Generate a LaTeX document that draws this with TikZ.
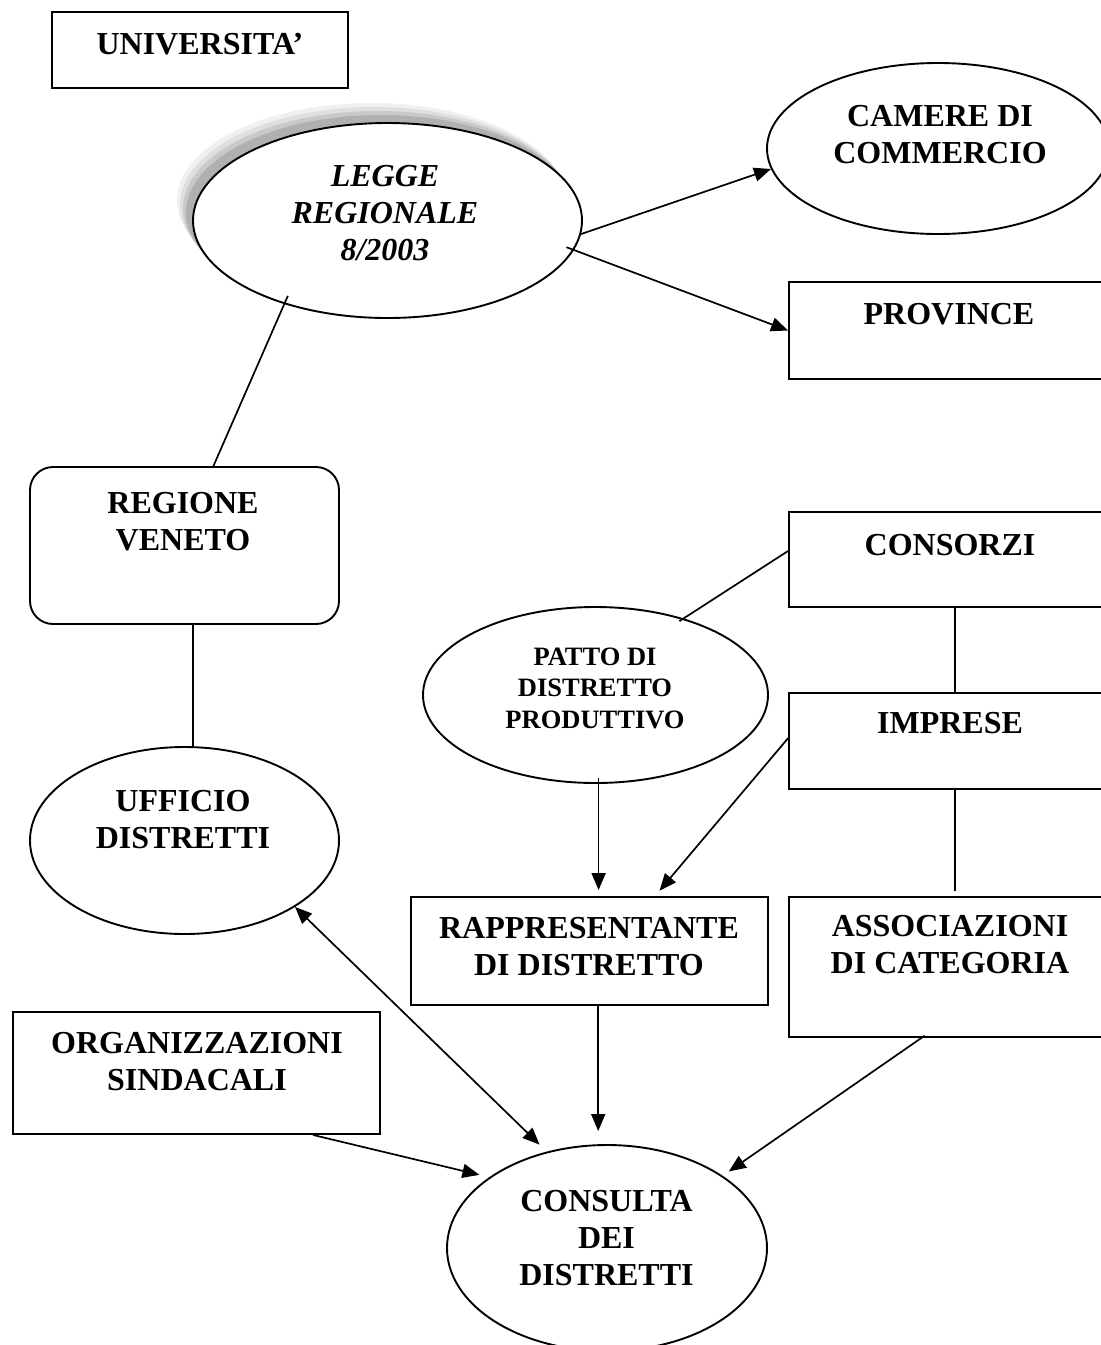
\documentclass[tikz,border=0pt]{standalone}
\usepackage{fontspec}
\setmainfont{Liberation Serif}
\usetikzlibrary{shapes.geometric,arrows.meta,calc}
\begin{document}
\begin{tikzpicture}[x=1pt,y=-1pt,
  shapeline/.style={draw=black, line width=1.9pt},
  boxnode/.style={shapeline, rectangle, inner sep=0pt, fill=white},
  ellnode/.style={shapeline, ellipse, inner sep=0pt, fill=white},
  lbl/.style={font=\bfseries\fontsize{32}{37}\selectfont, align=center, inner sep=0pt},
  itlbl/.style={font=\bfseries\itshape\fontsize{32}{37}\selectfont, align=center, inner sep=0pt},
  smalllbl/.style={font=\bfseries\fontsize{26.5}{31.5}\selectfont, align=center, inner sep=0pt},
  conn/.style={draw=black, line width=1.7pt},
  arr/.style={conn, -{Triangle[length=17pt,width=14pt]}},
  darr/.style={conn, {Triangle[length=17pt,width=14pt]}-{Triangle[length=17pt,width=14pt]}},
]
\useasboundingbox (0,0) rectangle (1101,1345);
\fill[white] (0,0) rectangle (1101,1345);
\clip (0,0) rectangle (1101,1345);

% shadow of the LEGGE ellipse
\fill[gray!12] (371.5,200.5) ellipse [x radius=194.5pt, y radius=97.5pt];
\fill[gray!25] (374.5,204.5) ellipse [x radius=194.5pt, y radius=97.5pt];
\fill[gray!42] (377.5,208.5) ellipse [x radius=194.5pt, y radius=97.5pt];
\fill[gray!62] (380.5,212.5) ellipse [x radius=194.5pt, y radius=97.5pt];

% shapes
\node[boxnode, minimum width=296pt, minimum height=76pt] (univ) at (200,50) {};
\node[ellnode, minimum width=389pt, minimum height=195pt] (legge) at (387.5,220.5) {};
\node[ellnode, minimum width=342pt, minimum height=171pt] (camere) at (938,148.5) {};
\node[boxnode, minimum width=322pt, minimum height=97pt] (province) at (950,330.5) {};
\node[boxnode, rounded corners=23pt, minimum width=309pt, minimum height=157pt] (regione) at (184.5,545.5) {};
\node[ellnode, minimum width=309pt, minimum height=187pt] (ufficio) at (184.5,840.5) {};
\node[boxnode, minimum width=322pt, minimum height=95pt] (consorzi) at (950,559.5) {};
\node[ellnode, minimum width=345pt, minimum height=176pt] (patto) at (595.5,695) {};
\node[boxnode, minimum width=322pt, minimum height=96pt] (imprese) at (950,741) {};
\node[boxnode, minimum width=357pt, minimum height=108pt] (rapp) at (589.5,951) {};
\node[boxnode, minimum width=322pt, minimum height=140pt] (assoc) at (950,967) {};
\node[boxnode, minimum width=367pt, minimum height=122pt] (org) at (196.5,1073) {};
\node[ellnode, minimum width=320pt, minimum height=206pt] (consulta) at (607,1248) {};

% texts
\node[lbl] (univT) at (200,44) {UNIVERSITA’};
\node[itlbl] (leggeT) at (385,213.5) {LEGGE\\REGIONALE\\8/2003};
\node[lbl] (camereT) at (940,135) {CAMERE DI\\COMMERCIO};
\node[lbl] (provinceT) at (949,314) {PROVINCE};
\node[lbl] (regioneT) at (183,521.5) {REGIONE\\VENETO};
\node[lbl] (ufficioT) at (183,820) {UFFICIO\\DISTRETTI};
\node[lbl] (consorziT) at (950,545) {CONSORZI};
\node[smalllbl] (pattoT) at (595,688) {PATTO DI\\DISTRETTO\\PRODUTTIVO};
\node[lbl] (impreseT) at (950,723) {IMPRESE};
\node[lbl] (rappT) at (589,947) {RAPPRESENTANTE\\DI DISTRETTO};
\node[lbl] (assocT) at (950,945) {ASSOCIAZIONI\\DI CATEGORIA};
\node[lbl] (orgT) at (197,1061.5) {ORGANIZZAZIONI\\SINDACALI};
\node[lbl] (consultaT) at (606.5,1238) {CONSULTA\\DEI\\DISTRETTI};

% connectors
\draw[arr] (legge.-4) -- (camere.187);
\draw[arr, shorten <=-8pt] (legge.-9) -- (province.west);
\draw[conn, shorten <=-9pt] (legge.219) -- (regione.70);
\draw[conn] (regione.-84) -- (regione.-84 |- ufficio.north);
\draw[darr, shorten >=10pt] (ufficio.-31) -- (consulta.122);
\draw[arr, shorten >=10pt] (org.-28) -- (consulta.149);
\draw[arr, shorten >=13pt] (rapp.-81) -- (rapp.-81 |- consulta.north);
\draw[arr, shorten <=-4pt, shorten >=7.5pt] (assoc.248) -- (consulta.32);
\draw[arr, shorten <=-6pt, shorten >=6pt] (patto.-88) -- (patto.-88 |- rapp.north);
\draw[arr, shorten >=7pt] (imprese.179) -- (rapp.40);
\draw[conn, shorten >=-5pt] (consorzi.177) -- (patto.41);
\draw[conn] (consorzi.-84) -- (consorzi.-84 |- imprese.north);
\draw[conn, shorten >=5pt] (imprese.-84) -- (imprese.-84 |- assoc.north);
\end{tikzpicture}
\end{document}
